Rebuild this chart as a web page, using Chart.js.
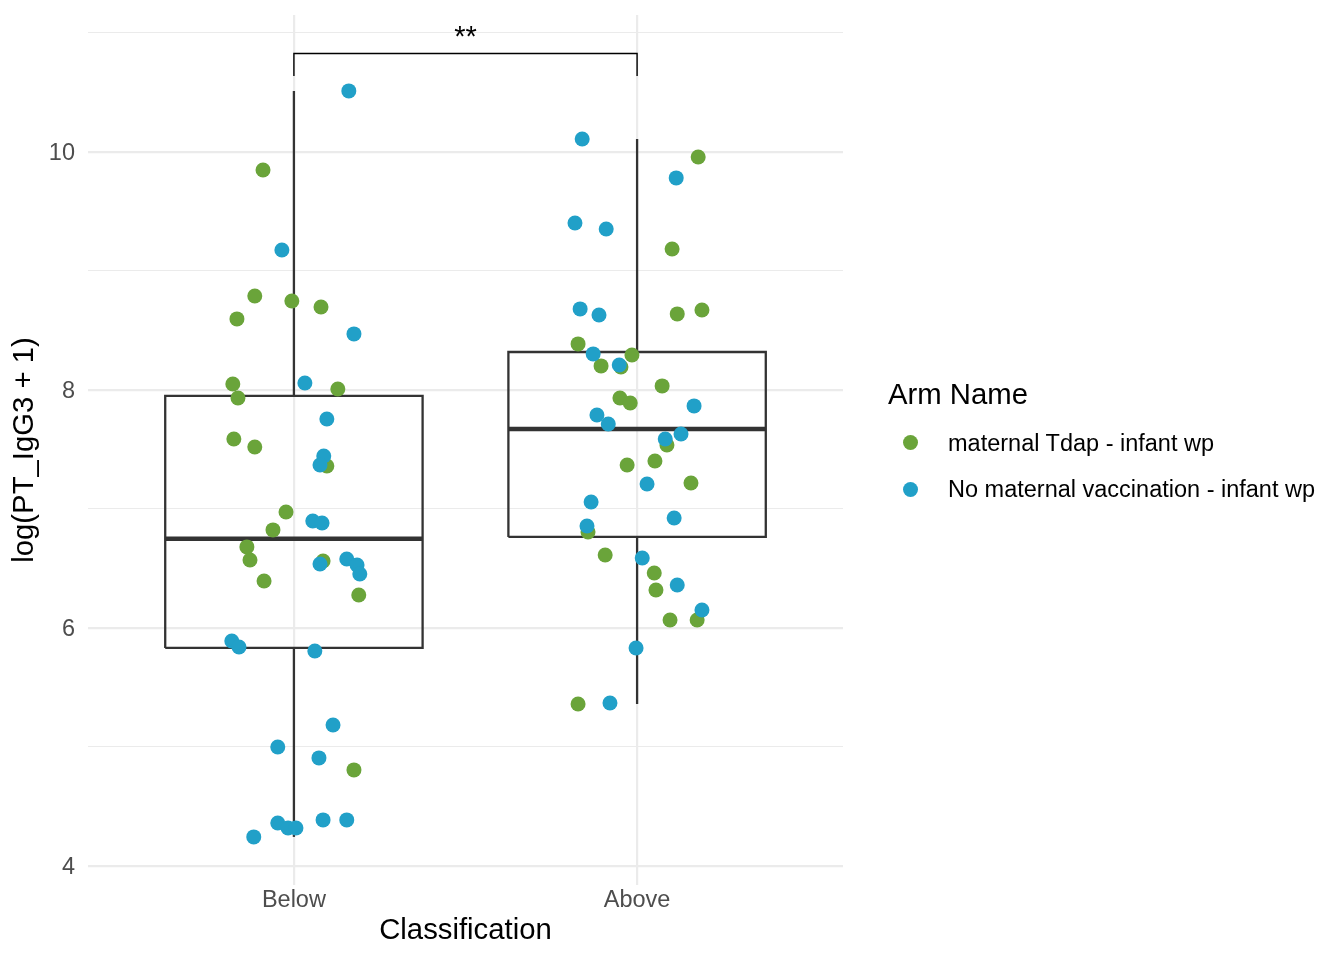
<!DOCTYPE html>
<html>
<head>
<meta charset="utf-8">
<script src="https://cdn.jsdelivr.net/npm/chart.js@4.4.1/dist/chart.umd.min.js"></script>
<style>
  html, body { margin: 0; padding: 0; background: #ffffff; }
  #wrap { position: relative; width: 1344px; height: 960px; font-family: "Liberation Sans", Arial, Helvetica, sans-serif; }
  canvas { position: absolute; left: 0; top: 0; }
  .lg { position: absolute; white-space: nowrap; line-height: 1; color: #000; }
  .lg-title { font-size: 29.3px; }
  .lg-item { font-size: 23.5px; }
  .dot { position: absolute; width: 15px; height: 15px; border-radius: 50%; }
</style>
</head>
<body>
<div id="wrap">
  <canvas id="c" width="1344" height="960"></canvas>
  <div class="lg lg-title" id="lgTitle" style="left:888px; top:379px;"></div>
  <div class="dot" id="dot0" style="left:903px; top:435px;"></div>
  <div class="lg lg-item" id="lgText0" style="left:948px; top:432px;"></div>
  <div class="dot" id="dot1" style="left:903px; top:482px;"></div>
  <div class="lg lg-item" id="lgText1" style="left:948px; top:478px;"></div>
</div>
<script>
// ---------------- data ----------------
const categories = ['Below', 'Above'];
const seriesNames = ['maternal Tdap - infant wp', 'No maternal vaccination - infant wp'];
const seriesColors = ['#6aa43a', '#21a0c8'];
const legendTitle = 'Arm Name';
const xTitle = 'Classification';
const yTitle = 'log(PT_IgG3 + 1)';
const yMajorTicks = [4, 6, 8, 10];
const yMinorTicks = [5, 7, 9, 11];
const sigLabel = '**';

// jittered points: category index (1 = Below, 2 = Above), jitter offset, value
const tdapCat = [1,1,1,1,1,1,1,1,1,1,1,1,1,1,1,1,1,1,1,
                 2,2,2,2,2,2,2,2,2,2,2,2,2,2,2,2,2,2,2,2,2,2];
const tdapJitter = [-0.090,-0.114,-0.006,0.079,-0.166,-0.178,0.128,-0.163,-0.175,-0.114,0.096,-0.023,-0.061,-0.137,-0.128,0.085,-0.087,0.189,0.175,
                    0.178,0.102,0.189,0.117,-0.172,-0.015,-0.105,-0.047,0.073,-0.050,-0.020,0.087,0.052,-0.029,0.157,-0.143,-0.093,0.050,0.055,0.096,0.175,-0.172];
const tdapValue = [9.849,8.790,8.748,8.697,8.597,8.050,8.008,7.933,7.588,7.521,7.361,6.975,6.824,6.681,6.571,6.563,6.395,6.277,4.807,
                   9.958,9.185,8.672,8.639,8.387,8.294,8.202,8.193,8.034,7.933,7.891,7.538,7.403,7.370,7.218,6.807,6.613,6.462,6.319,6.067,6.067,5.361];

const noVaxCat = [1,1,1,1,1,1,1,1,1,1,1,1,1,1,1,1,1,1,1,1,1,1,1,1,1,
                  2,2,2,2,2,2,2,2,2,2,2,2,2,2,2,2,2,2,2,2,2,2];
const noVaxJitter = [0.160,-0.035,0.175,0.032,0.096,0.087,0.076,0.055,0.082,0.154,0.076,0.184,0.192,-0.181,-0.160,0.061,0.114,-0.047,0.073,0.085,0.154,-0.047,-0.017,0.006,-0.117,
                     -0.160,-0.181,-0.090,0.114,-0.166,-0.111,-0.128,-0.052,0.166,-0.117,-0.084,0.128,0.082,0.029,-0.134,0.108,-0.146,0.015,0.117,0.189,-0.003,-0.079];
const noVaxValue = [10.513,9.176,8.471,8.059,7.756,7.445,7.370,6.899,6.882,6.580,6.538,6.529,6.454,5.891,5.840,5.807,5.185,5.000,4.908,4.387,4.387,4.361,4.319,4.319,4.244,
                    10.109,9.403,9.353,9.782,8.681,8.630,8.303,8.210,7.866,7.790,7.714,7.630,7.588,7.210,7.059,6.924,6.857,6.588,6.361,6.151,5.832,5.370];

// box statistics per category
const whiskerLow = [4.244, 5.361];
const q1 = [5.832, 6.765];
const median = [6.750, 7.672];
const q3 = [7.950, 8.319];
const whiskerHigh = [10.513, 10.109];

// significance bracket between the two categories
const bracketTop = 10.828;
const bracketFoot = 10.639;
const sigLabelY = 10.89;

// ---------------- build ----------------
const FONT = '"Liberation Sans", Arial, Helvetica, sans-serif';
const BOX_HALF = 0.375;
const BOX_COLOR = '#333333';

function pts(cats, jit, vals) {
  return vals.map((v, i) => ({ x: cats[i] + jit[i], y: v }));
}
function lineDs(data, width, color, order) {
  return {
    type: 'scatter', data, showLine: true, pointRadius: 0, pointHoverRadius: 0,
    borderColor: color, borderWidth: width, backgroundColor: 'transparent',
    borderJoinStyle: 'miter', borderCapStyle: 'butt', fill: false, tension: 0,
    order, clip: false
  };
}

const datasets = [];
datasets.push({
  label: seriesNames[1], data: pts(noVaxCat, noVaxJitter, noVaxValue),
  backgroundColor: seriesColors[1], borderWidth: 0, pointRadius: 7.5, pointHoverRadius: 7.5, order: 0
});
datasets.push({
  label: seriesNames[0], data: pts(tdapCat, tdapJitter, tdapValue),
  backgroundColor: seriesColors[0], borderWidth: 0, pointRadius: 7.5, pointHoverRadius: 7.5, order: 1
});
categories.forEach((c, i) => {
  const cx = i + 1;
  datasets.push(lineDs([{x: cx, y: q3[i]}, {x: cx, y: whiskerHigh[i]}], 2.3, BOX_COLOR, 5));
  datasets.push(lineDs([{x: cx, y: whiskerLow[i]}, {x: cx, y: q1[i]}], 2.3, BOX_COLOR, 5));
  datasets.push(lineDs([
    {x: cx - BOX_HALF, y: q1[i]}, {x: cx + BOX_HALF, y: q1[i]},
    {x: cx + BOX_HALF, y: q3[i]}, {x: cx - BOX_HALF, y: q3[i]},
    {x: cx - BOX_HALF, y: q1[i]}], 2.3, BOX_COLOR, 4));
  datasets.push(lineDs([{x: cx - BOX_HALF, y: median[i]}, {x: cx + BOX_HALF, y: median[i]}], 4.6, BOX_COLOR, 3));
});
datasets.push(lineDs([{x: 1, y: bracketFoot}, {x: 1, y: bracketTop}, {x: 2, y: bracketTop}, {x: 2, y: bracketFoot}], 1.4, '#000000', 2));

const sigPlugin = {
  id: 'sig',
  afterDatasetsDraw(chart) {
    const {ctx, scales} = chart;
    ctx.save();
    ctx.font = '29px ' + FONT;
    ctx.fillStyle = '#000';
    ctx.textAlign = 'center';
    ctx.textBaseline = 'alphabetic';
    ctx.fillText(sigLabel, scales.x.getPixelForValue(1.5), scales.y.getPixelForValue(sigLabelY));
    ctx.restore();
  }
};

function zeroPad(s) { s.paddingTop = 0; s.paddingBottom = 0; s.paddingLeft = 0; s.paddingRight = 0; }

new Chart(document.getElementById('c'), {
  type: 'scatter',
  data: { datasets },
  plugins: [sigPlugin],
  options: {
    responsive: false, animation: false, devicePixelRatio: 1,
    layout: { padding: { top: 15, right: 501, left: 0, bottom: 0 } },
    plugins: { legend: { display: false }, tooltip: { enabled: false } },
    scales: {
      x: {
        type: 'linear', min: 0.4, max: 2.6,
        afterBuildTicks: s => { s.ticks = categories.map((c, i) => ({ value: i + 1 })); },
        afterFit: s => { s.height = 75; zeroPad(s); },
        ticks: {
          callback: v => categories[Math.round(v) - 1] || '',
          font: { family: FONT, size: 23.5 }, color: '#4d4d4d', padding: 1, maxRotation: 0, autoSkip: false
        },
        grid: { color: '#ebebeb', lineWidth: 2.2, drawTicks: false },
        border: { display: false },
        title: { display: true, text: xTitle, font: { family: FONT, size: 29.3 }, color: '#000', padding: { top: 0, bottom: 12 } }
      },
      y: {
        type: 'linear', min: 3.84, max: 11.151,
        afterBuildTicks: s => { s.ticks = yMajorTicks.concat(yMinorTicks).sort((a, b) => a - b).map(v => ({ value: v })); },
        afterFit: s => { s.width = 88; zeroPad(s); },
        ticks: {
          callback: v => yMajorTicks.includes(v) ? String(v) : '',
          font: { family: FONT, size: 23.5 }, color: '#4d4d4d', padding: 13, autoSkip: false, labelOffset: 2
        },
        grid: {
          color: '#ebebeb', drawTicks: false,
          lineWidth: ctx => (ctx.tick && yMajorTicks.includes(ctx.tick.value)) ? 2.2 : 1.1
        },
        border: { display: false },
        title: { display: true, text: yTitle, font: { family: FONT, size: 29.3 }, color: '#000', padding: { top: 7, bottom: 0 } }
      }
    }
  }
});

// HTML legend
document.getElementById('lgTitle').textContent = legendTitle;
document.getElementById('lgText0').textContent = seriesNames[0];
document.getElementById('lgText1').textContent = seriesNames[1];
document.getElementById('dot0').style.background = seriesColors[0];
document.getElementById('dot1').style.background = seriesColors[1];
</script>
</body>
</html>
